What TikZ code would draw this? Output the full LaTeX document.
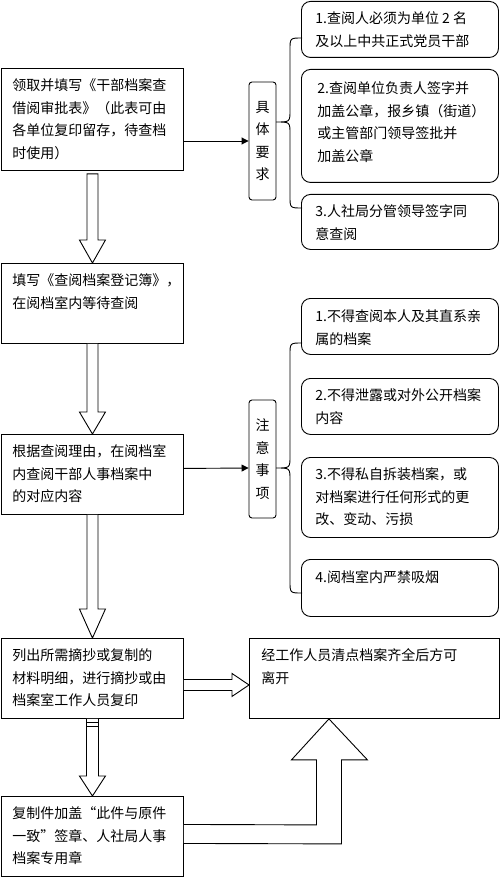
\documentclass[tikz,border=0pt]{standalone}
\usepackage{fontspec}
\setmainfont{Noto Sans CJK SC}
\usetikzlibrary{calc,arrows.meta}
\newcommand{\bt}[4]{\parbox[c][#2pt][t]{#1pt}{\fontsize{14pt}{22.5pt}\selectfont\leftskip=#3pt\rightskip=0pt plus 1fil\parindent=0pt\vspace*{10.5pt}#4}}
\tikzset{
  lbox/.style={draw, line width=0.9pt, inner sep=0pt, anchor=north west},
  rbox/.style={draw, line width=0.9pt, inner sep=0pt, anchor=north west, rounded corners=9pt},
  tag/.style={draw, line width=0.9pt, rounded corners=3pt, minimum width=27pt, minimum height=118pt, inner sep=0pt, align=center, font=\fontsize{14pt}{22.5pt}\selectfont},
  barrow/.style={draw, line width=0.9pt, fill=white, line join=miter},
  thin/.style={line width=0.9pt},
  brace/.style={line width=0.9pt}
}
\begin{document}
\begin{tikzpicture}[x=1pt,y=-1pt]
\useasboundingbox (0,0) rectangle (500,877);
% left column
\node[lbox] (b1) at (1,68) {\bt{182}{102}{11}{领取并填写《干部档案查\\借阅审批表》（此表可由\\各单位复印留存，待查档\\时使用）}};
\node[lbox] (b2) at (1,263) {\bt{182}{80}{11}{填写《查阅档案登记簿》，\\在阅档室内等待查阅}};
\node[lbox] (b3) at (1,434) {\bt{182}{80}{11}{根据查阅理由，在阅档室\\内查阅干部人事档案中\\的对应内容}};
\node[lbox] (b4) at (1,638) {\bt{182}{80}{11}{列出所需摘抄或复制的\\材料明细，进行摘抄或由\\档案室工作人员复印}};
\node[lbox] (b5) at (1,796) {\bt{182}{80}{11}{复制件加盖“此件与原件\\一致”签章、人社局人事\\档案专用章}};
\node[lbox] (rb) at (249,638) {\bt{250}{80}{12}{经工作人员清点档案齐全后方可\\离开}};
% tags
\node[tag] (l1) at (262.5,141) {具\\体\\要\\求};
\node[tag] (l2) at (262.5,459) {注\\意\\事\\项};
% right boxes
\node[rbox] (r1) at (301,1) {\bt{197}{56}{14}{1.查阅人必须为单位 2 名\\及以上中共正式党员干部}};
\node[rbox] (r2) at (301,69) {\bt{197}{113}{16}{\vspace*{2pt}2.查阅单位负责人签字并\\加盖公章，报乡镇（街道）\\或主管部门领导签批并\\加盖公章}};
\node[rbox] (r3) at (301,194) {\bt{197}{55}{14}{3.人社局分管领导签字同\\意查阅}};
\node[rbox] (r4) at (301,298) {\bt{197}{56}{14}{\vspace*{1pt}1.不得查阅本人及其直系亲\\属的档案}};
\node[rbox] (r5) at (301,378) {\bt{197}{56}{14}{2.不得泄露或对外公开档案\\内容}};
\node[rbox] (r6) at (301,457) {\bt{197}{80}{14}{3.不得私自拆装档案，或\\对档案进行任何形式的更\\改、变动、污损}};
\node[rbox] (r7) at (301,559) {\bt{197}{57}{14}{\vspace*{1pt}4.阅档室内严禁吸烟}};
% thin arrows to tags
\draw[thin,-{Triangle[length=7pt,width=7pt]}] (l1.west -| b1.east) -- (l1.west);
\draw[thin,-{Triangle[length=7pt,width=7pt]}] ($(b3.east)+(0,-6)$) -- ($(l2.west)+(0,9)$);
% braces
\draw[brace] (302,38) .. controls (290,38) .. (290,50) -- (290,110) .. controls (290,122) .. (276,122) .. controls (290,122) .. (290,134) -- (290,196) .. controls (290,208) .. (302,208);
\draw[brace] (302,343) .. controls (290,343) .. (290,355) -- (290,456) .. controls (290,468) .. (276,468) .. controls (290,468) .. (290,480) -- (290,581) .. controls (290,593) .. (302,593);
% block arrows down
\draw[barrow] ($(b1.south)+(-5.5,3)$) -- ($(b2.north)+(-5.5,-23)$) -- ($(b2.north)+(-13,-23)$) -- (b2.north) -- ($(b2.north)+(13,-23)$) -- ($(b2.north)+(5.5,-23)$) -- ($(b1.south)+(5.5,3)$) -- cycle;
\draw[barrow] ($(b2.south)+(-5.5,0)$) -- ($(b3.north)+(-5.5,-22)$) -- ($(b3.north)+(-13,-22)$) -- (b3.north) -- ($(b3.north)+(13,-22)$) -- ($(b3.north)+(5.5,-22)$) -- ($(b2.south)+(5.5,0)$);
\draw[barrow] ($(b3.south)+(-5.5,0)$) -- ($(b4.north)+(-5.5,-29)$) -- ($(b4.north)+(-13,-29)$) -- (b4.north) -- ($(b4.north)+(13,-29)$) -- ($(b4.north)+(5.5,-29)$) -- ($(b3.south)+(5.5,0)$);
\draw[barrow] ($(b4.south)+(-6,0)$) -- ($(b5.north)+(-6,-20)$) -- ($(b5.north)+(-13,-20)$) -- (b5.north) -- ($(b5.north)+(13,-20)$) -- ($(b5.north)+(6,-20)$) -- ($(b4.south)+(6,0)$);
\draw[thin] ($(b4.south)+(-6,4)$) -- ($(b4.south)+(6,4)$);
\draw[thin] ($(b4.south)+(-6,8)$) -- ($(b4.south)+(6,8)$);
% horizontal block arrow
\draw[barrow] ($(b4.east)+(0,1)$) -- ($(rb.west)+(-17,1)$) -- ($(rb.west)+(-17,-5)$) -- ($(rb.west)+(0,6.5)$) -- ($(rb.west)+(-17,18)$) -- ($(rb.west)+(-17,12)$) -- ($(b4.east)+(0,12)$);
% L-shaped block arrow
\coordinate (tip) at ($(rb.south)+(-45.5,0)$);
\draw[barrow] ($(b5.east)+(0,7)$) -- ($(tip)+(12.5,125)$) -- ($(tip)+(12.5,41)$) -- ($(tip)+(38.5,41)$) -- (tip) -- ($(tip)+(-37.5,41)$) -- ($(tip)+(-12.5,41)$) -- ($(tip)+(-12.5,106)$) -- ($(b5.east)+(0,-12)$);
\end{tikzpicture}
\end{document}
